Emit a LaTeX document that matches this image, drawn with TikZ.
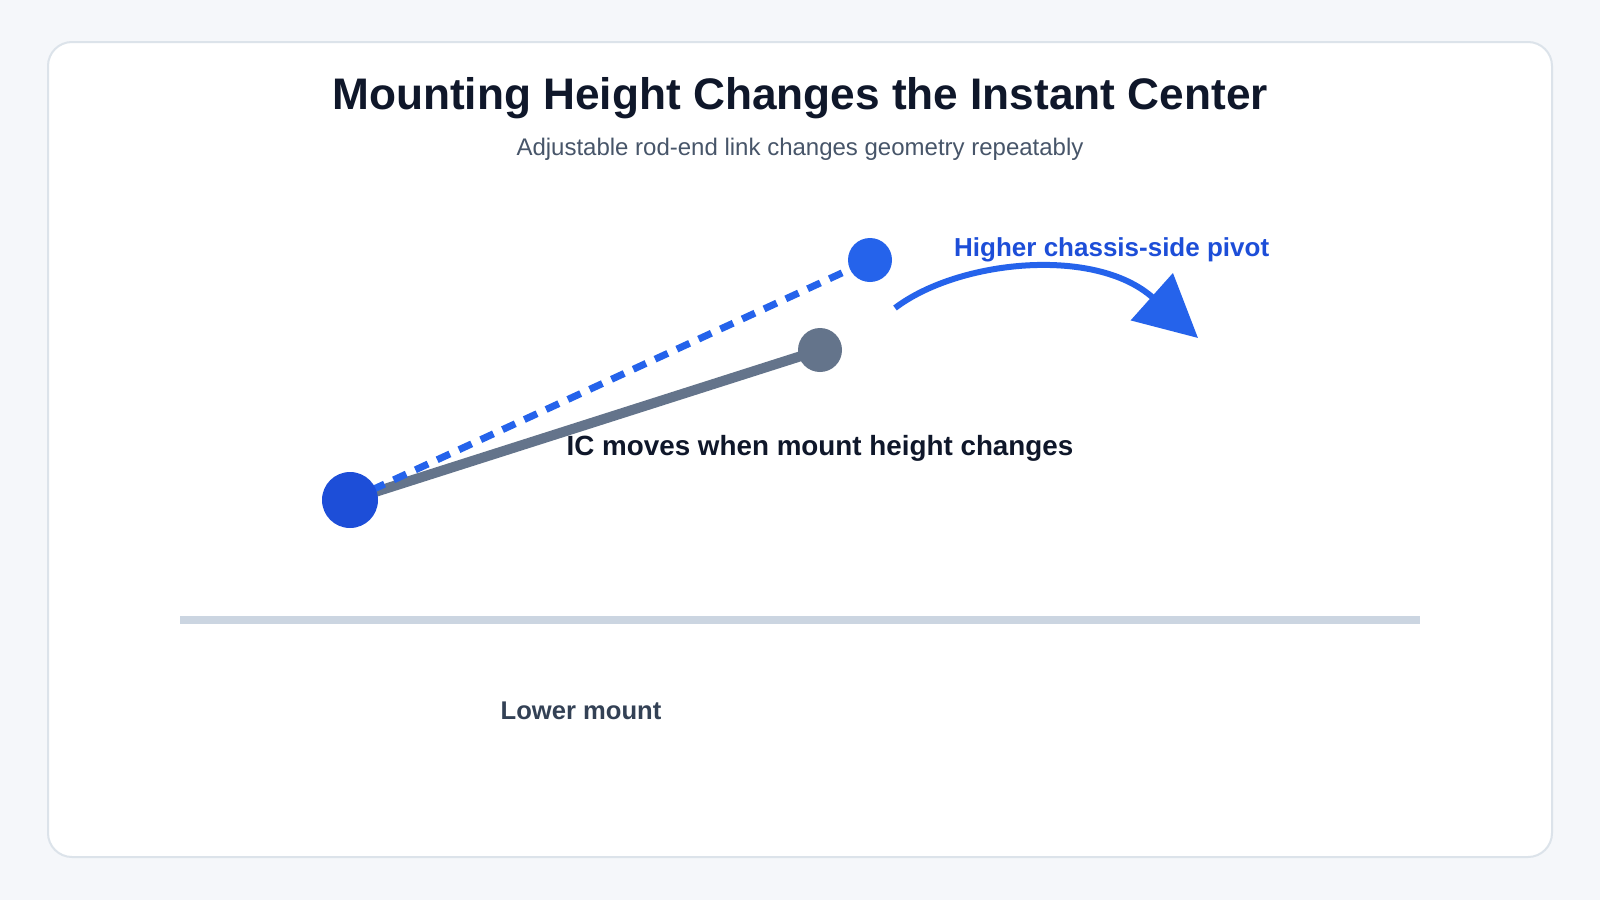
\documentclass[tikz,border=0pt]{standalone}
\usepackage{fontspec}
\setmainfont{Liberation Sans}
\usetikzlibrary{arrows.meta}
\definecolor{pagebg}{HTML}{F5F7FA}
\definecolor{cardborder}{HTML}{DCE3EA}
\definecolor{titlecol}{HTML}{0F172A}
\definecolor{subcol}{HTML}{475569}
\definecolor{bluedark}{HTML}{1D4ED8}
\definecolor{bluemid}{HTML}{2563EB}
\definecolor{slatecol}{HTML}{64748B}
\definecolor{groundcol}{HTML}{CBD5E1}
\definecolor{labelcol}{HTML}{334155}
\tikzset{
  pivotdot/.style={circle, inner sep=0pt, draw=none},
  linkline/.style={draw=slatecol, line width=10pt},
  altline/.style={draw=bluemid, line width=7pt, dash pattern=on 14pt off 10pt},
  movearrow/.style={draw=bluemid, line width=6pt, -{Triangle[length=62pt,width=62pt]}},
  lbl/.style={inner sep=0pt, font=\bfseries\fontsize{26}{30}\selectfont},
}
\begin{document}
\begin{tikzpicture}[x=1pt,y=-1pt]
\useasboundingbox (0,0) rectangle (1600,900);
\fill[pagebg] (0,0) rectangle (1600,900);
\draw[fill=white, draw=cardborder, line width=2pt, rounded corners=24pt] (48,42) rectangle (1552,857);

\node[anchor=base, inner sep=0pt, text=titlecol, font=\bfseries\fontsize{44.2}{50}\selectfont] (title) at (800,109) {Mounting Height Changes the Instant Center};
\node[anchor=base, inner sep=0pt, text=subcol, font=\fontsize{24}{28}\selectfont] (subtitle) at (800,155) {Adjustable rod-end link changes geometry repeatably};

% ground
\coordinate (gL) at (180,620);
\coordinate (gR) at (1420,620);
\draw[groundcol, line width=8pt] (gL) -- (gR);

% link geometry
\coordinate (pC) at (350,500);
\coordinate (lowC) at (820,350);
\coordinate (highC) at (870,260);
\draw[linkline] (pC) -- (lowC);
\draw[altline] (pC) -- (highC);
\node[pivotdot, fill=bluedark, minimum size=56pt] (pivot) at (pC) {};
\node[pivotdot, fill=slatecol, minimum size=44pt] (lowpivot) at (lowC) {};
\node[pivotdot, fill=bluemid, minimum size=44pt] (highpivot) at (highC) {};

% arrow
\coordinate (aS) at (895,308);
\coordinate (aE) at (1198,338);
\draw[movearrow] (aS) .. controls (958,260) and (1095,246) .. (aE);

\node[lbl, anchor=base west, text=bluedark] (higher) at (954,256) {Higher chassis-side pivot};
\node[lbl, anchor=base, text=titlecol, font=\bfseries\fontsize{27.8}{32}\selectfont] (ic) at (820,455) {IC moves when mount height changes};
\node[lbl, anchor=base, text=labelcol, font=\bfseries\fontsize{25.6}{30}\selectfont] (lower) at (581,719) {Lower mount};
\end{tikzpicture}
\end{document}
